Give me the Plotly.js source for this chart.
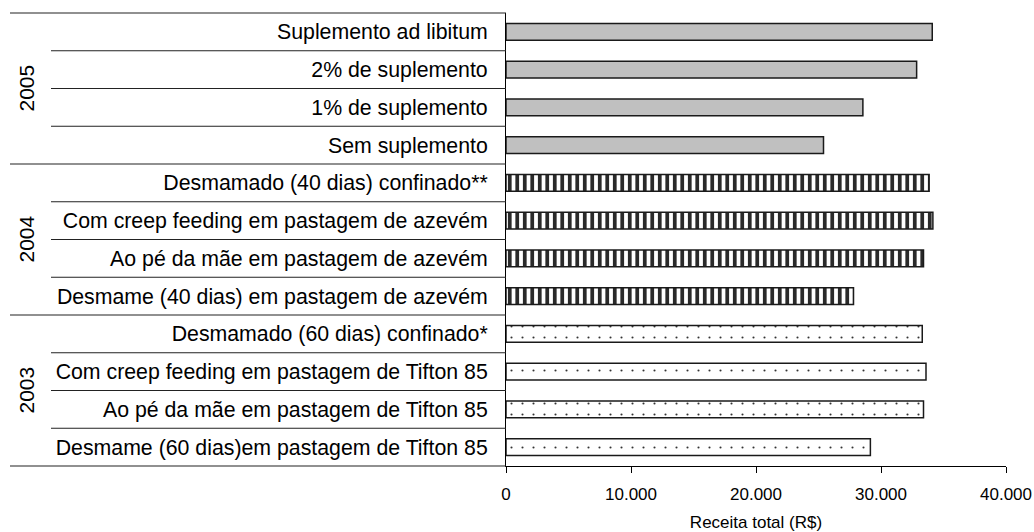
<!DOCTYPE html>
<html>
<head>
<meta charset="utf-8">
<script src="https://cdn.plot.ly/plotly-3.0.1.min.js"></script>
<style>html,body{margin:0;padding:0;background:#fff;}#chart{width:1034px;height:532px;}</style>
</head>
<body>
<div id="chart"></div>
<script>
const years = ['2005', '2004', '2003'];
const labels2005 = ['Suplemento ad libitum', '2% de suplemento', '1% de suplemento', 'Sem suplemento'];
const values2005 = [34100, 32850, 28550, 25400];
const labels2004 = ['Desmamado (40 dias) confinado**', 'Com creep feeding em pastagem de azevém', 'Ao pé da mãe em pastagem de azevém', 'Desmame (40 dias) em pastagem de azevém'];
const values2004 = [33850, 34150, 33400, 27800];
const labels2003 = ['Desmamado (60 dias) confinado*', 'Com creep feeding em pastagem de Tifton 85', 'Ao pé da mãe em pastagem de Tifton 85', 'Desmame (60 dias)em pastagem de Tifton 85'];
const values2003 = [33300, 33600, 33400, 29150];
const xTickValues = [0, 10000, 20000, 30000, 40000];
const xTitle = 'Receita total (R$)';

const groupLabels = [labels2005, labels2004, labels2003];
const groupValues = [values2005, values2004, values2003];
const allLabels = [].concat(...groupLabels);
const nCat = allLabels.length;

const FONT = 'Liberation Sans, Arial, sans-serif';
const borderLine = {color: '#1a1a1a', width: 1.5};
const patterns = [
  {shape: '', fillmode: 'replace'},
  {shape: '|', size: 7.5, solidity: 0.5, fgcolor: '#2a2a2a', bgcolor: '#ffffff', fillmode: 'replace'},
  {shape: '.', size: 11, solidity: 0.03, fgcolor: '#333333', bgcolor: '#ffffff', fillmode: 'replace'}
];
const fills = ['#c0c0c0', '#ffffff', '#ffffff'];

const traces = years.map((yr, g) => ({
  type: 'bar',
  orientation: 'h',
  name: yr,
  y: groupLabels[g],
  x: groupValues[g],
  width: 0.44,
  marker: {color: fills[g], line: borderLine, pattern: patterns[g]},
  hoverinfo: 'x+y',
  showlegend: false
}));

// label-table divider lines at the left (paper coords derived from category index)
const shapes = [];
for (let i = 0; i <= nCat; i++) {
  const isGroup = (i % 4 === 0);
  const yp = 1 - i / nCat;
  shapes.push({
    type: 'line', xref: 'paper', yref: 'paper',
    x0: isGroup ? -0.992 : -0.91, x1: 0, y0: yp, y1: yp,
    line: {color: '#222', width: 1.2}, layer: 'above'
  });
}

const annotations = years.map((yr, g) => ({
  xref: 'paper', yref: 'paper',
  x: -0.96, y: 1 - (g * 4 + 2) / nCat,
  text: yr, showarrow: false, textangle: -90,
  xanchor: 'center', yanchor: 'middle',
  font: {family: FONT, size: 21, color: '#000'}
}));

const layout = {
  width: 1034, height: 532,
  margin: {l: 506, r: 28, t: 13, b: 66, pad: 0},
  paper_bgcolor: '#fff', plot_bgcolor: '#fff',
  separators: ',.',
  barmode: 'overlay',
  font: {family: FONT, color: '#000'},
  xaxis: {
    range: [0, 40000], tickvals: xTickValues, tickformat: ',d',
    showgrid: false, zeroline: false,
    showline: true, linecolor: '#000', linewidth: 1,
    ticks: 'outside', ticklen: 6, tickcolor: '#000', tickwidth: 1,
    ticklabelstandoff: 7,
    tickfont: {family: FONT, size: 17, color: '#000'},
    title: {text: xTitle, font: {family: FONT, size: 17, color: '#000'}, standoff: 17},
    fixedrange: true
  },
  yaxis: {
    type: 'category', categoryorder: 'array', categoryarray: allLabels,
    range: [nCat - 0.5, -0.5],
    showgrid: false, zeroline: false,
    showline: true, linecolor: '#000', linewidth: 1,
    ticks: '', ticklabelstandoff: 13,
    tickfont: {family: FONT, size: 21.3, color: '#000'},
    fixedrange: true
  },
  shapes: shapes,
  annotations: annotations
};

Plotly.newPlot('chart', traces, layout, {displayModeBar: false, staticPlot: true});
</script>
</body>
</html>
